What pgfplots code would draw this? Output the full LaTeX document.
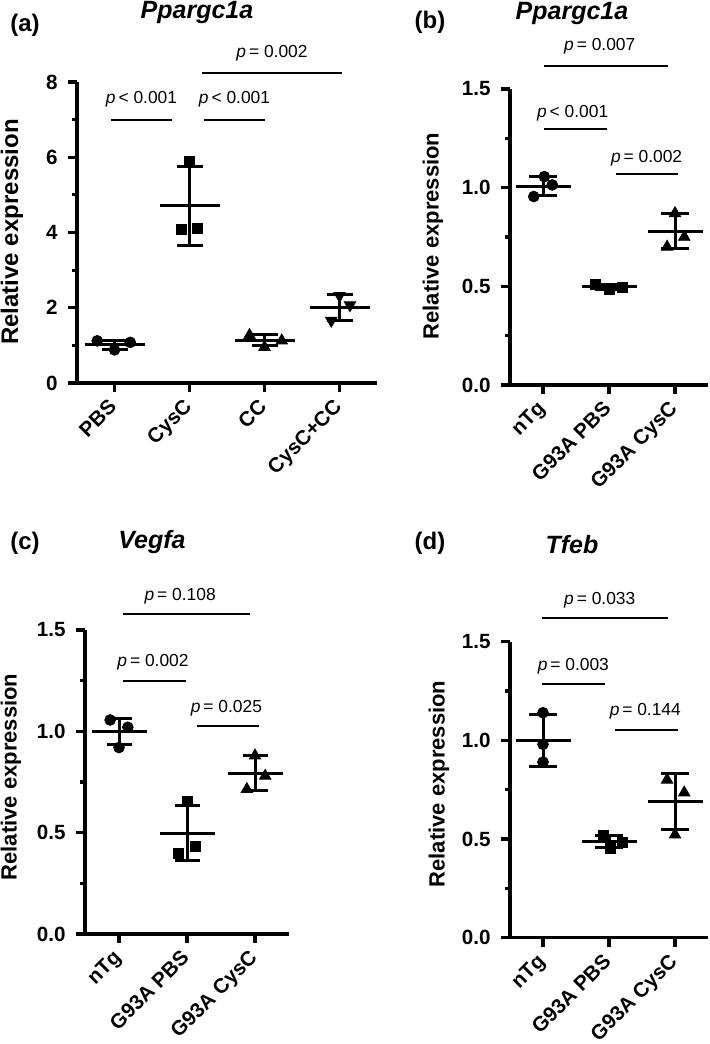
\documentclass[border=0pt]{standalone}
\usepackage{fontspec}
\setmainfont{Liberation Sans}
\usepackage{pgfplots}
\usepackage{pgfplotstable}
\pgfplotsset{compat=1.18}

% summary tables: category position, mean, SD
\pgfplotstableread{
x mean sd
0 1.01 0.13
1 4.71 1.05
2 1.135 0.145
3 1.995 0.345
}\statsA
\pgfplotstableread{
x mean sd
0 1.008 0.049
1 0.498 0.012
2 0.780 0.090
}\statsB
\pgfplotstableread{
x mean sd
0 1.000 0.065
1 0.497 0.135
2 0.793 0.086
}\statsC
\pgfplotstableread{
x mean sd
0 1.000 0.130
1 0.487 0.032
2 0.690 0.142
}\statsD

\newcommand{\psize}{\fontsize{8.7}{10}\selectfont}
\newcommand{\pv}[1]{\textit{p}\,#1}

\pgfplotsset{
  gp/.style={
    scale only axis, anchor=south west, clip=false,
    axis lines=left,
    axis line style={-, line width=1.7pt},
    every outer x axis line/.append style={line width=1.7pt},
    every outer y axis line/.append style={line width=1.7pt},
    every inner x axis line/.append style={line width=1.7pt},
    every inner y axis line/.append style={line width=1.7pt},
    tick align=outside, major tick length=4.5pt, minor tick length=2.5pt,
    every tick/.append style={line width=1.6pt, black},
    xmin=-0.5, ymin=0,
    minor y tick num=1,
    /pgf/number format/assume math mode=true,
    tick label style={font=\fontsize{10.3}{11}\selectfont\bfseries},
    yticklabel style={inner sep=0pt, anchor=east, xshift=-5pt},
    xticklabel style={xshift=-3.5pt, yshift=-2.75pt, inner sep=0pt, rotate=45, anchor=north east},
  },
  fixone/.style={yticklabel style={/pgf/number format/.cd, fixed, fixed zerofill, precision=1}},
  sig/.style={line width=1.1pt, mark=none, black},
  meanbar/.style 2 args={only marks, mark=-, mark size=#1, mark options={line width=1.5pt},
    error bars/y dir=both, error bars/y explicit, error bars/error mark=|,
    error bars/error bar style={line width=1.5pt},
    error bars/error mark options={mark size=#2, line width=1.5pt}},
}

\begin{document}
\begin{tikzpicture}
\path[use as bounding box] (0,0) rectangle (354.5pt,522pt);

% ---------------- (a)
\begin{axis}[gp, at={(38.5pt,330.5pt)}, width=150pt, height=150.5pt,
  xmax=3.5, ymax=8, ytick={0,2,4,6,8}, xtick={0,1,2,3},
  xticklabels={PBS,CysC,CC,CysC+CC}]
\addplot[meanbar={15pt}{6.5pt}] table[x=x, y=mean, y error=sd] {\statsA};
\addplot[only marks, mark=*, mark size=2.7pt] coordinates {(-0.23,1.12) (0.0,0.88) (0.21,1.08)};
\addplot[only marks, mark=square*, mark size=2.5pt] coordinates {(1.0,5.9) (0.89,4.08) (1.11,4.1)};
\addplot[only marks, mark=triangle*, mark size=3.3pt] coordinates {(1.8,1.27) (2.0,0.95) (2.23,1.125)};
\addplot[only marks, mark=triangle*, mark size=3.3pt, mark options={rotate=180}] coordinates {(3.0,2.32) (3.14,2.07) (2.89,1.66)};
\addplot[sig] coordinates {(-0.05,7.0) (0.77,7.0)};
\addplot[sig] coordinates {(1.19,7.0) (2.01,7.0)};
\addplot[sig] coordinates {(1.16,8.24) (3.03,8.24)};
\node[font=\psize, anchor=base] at (axis cs:0.36,7.44) {\pv{< 0.001}};
\node[font=\psize, anchor=base] at (axis cs:1.6,7.44) {\pv{< 0.001}};
\node[font=\psize, anchor=base] at (axis cs:2.1,8.66) {\pv{= 0.002}};
\end{axis}

% ---------------- (b)
\begin{axis}[gp, fixone, at={(255pt,329.5pt)}, width=99pt, height=148pt,
  xmax=2.5, ymax=1.5, ytick={0,0.5,1,1.5}, xtick={0,1,2},
  xticklabels={nTg,G93A PBS,G93A CysC}]
\addplot[meanbar={13.75pt}{7pt}] table[x=x, y=mean, y error=sd] {\statsB};
\addplot[only marks, mark=*, mark size=2.7pt] coordinates {(-0.14,0.955) (0.02,1.056) (0.14,1.014)};
\addplot[only marks, mark=square*, mark size=2.5pt] coordinates {(0.79,0.51) (1.0,0.482) (1.21,0.495)};
\addplot[only marks, mark=triangle*, mark size=3.3pt] coordinates {(2.0,0.87) (2.14,0.75) (1.88,0.70)};
\addplot[sig] coordinates {(0.015,1.296) (0.97,1.296)};
\addplot[sig] coordinates {(1.106,1.068) (2.045,1.068)};
\addplot[sig] coordinates {(0.015,1.618) (1.894,1.618)};
\node[font=\psize, anchor=base] at (axis cs:0.45,1.357) {\pv{< 0.001}};
\node[font=\psize, anchor=base] at (axis cs:1.57,1.129) {\pv{= 0.002}};
\node[font=\psize, anchor=base] at (axis cs:0.86,1.694) {\pv{= 0.007}};
\end{axis}

% ---------------- (c)
\begin{axis}[gp, fixone, at={(42.5pt,55pt)}, width=102pt, height=152pt,
  xmax=2.5, ymax=1.5, ytick={0,0.5,1,1.5}, xtick={0,1,2},
  xticklabels={nTg,G93A PBS,G93A CysC}]
\addplot[meanbar={13.75pt}{6.25pt}] table[x=x, y=mean, y error=sd] {\statsC};
\addplot[only marks, mark=*, mark size=2.7pt] coordinates {(-0.13,1.056) (0.13,1.02) (0.0,0.92)};
\addplot[only marks, mark=square*, mark size=2.5pt] coordinates {(1.0,0.653) (0.88,0.40) (1.12,0.43)};
\addplot[only marks, mark=triangle*, mark size=3.3pt] coordinates {(2.0,0.88) (2.15,0.78) (1.88,0.714)};
\addplot[sig] coordinates {(0.06,1.577) (1.93,1.577)};
\addplot[sig] coordinates {(0.06,1.25) (0.985,1.25)};
\addplot[sig] coordinates {(1.147,1.028) (2.06,1.028)};
\node[font=\psize, anchor=base] at (axis cs:0.9,1.648) {\pv{= 0.108}};
\node[font=\psize, anchor=base] at (axis cs:0.5,1.319) {\pv{= 0.002}};
\node[font=\psize, anchor=base] at (axis cs:1.58,1.092) {\pv{= 0.025}};
\end{axis}

% ---------------- (d)
\begin{axis}[gp, fixone, at={(255pt,53.15pt)}, width=99pt, height=148pt,
  xmax=2.5, ymax=1.5, ytick={0,0.5,1,1.5}, xtick={0,1,2},
  xticklabels={nTg,G93A PBS,G93A CysC}]
\addplot[meanbar={13.75pt}{7pt}] table[x=x, y=mean, y error=sd] {\statsD};
\addplot[only marks, mark=*, mark size=2.7pt] coordinates {(0,1.14) (0,0.98) (0,0.89)};
\addplot[only marks, mark=square*, mark size=2.5pt] coordinates {(0.91,0.52) (1.02,0.453) (1.21,0.482)};
\addplot[only marks, mark=triangle*, mark size=3.3pt] coordinates {(1.88,0.80) (2.14,0.735) (2.0,0.522)};
\addplot[sig] coordinates {(-0.015,1.619) (1.894,1.619)};
\addplot[sig] coordinates {(-0.015,1.284) (0.94,1.284)};
\addplot[sig] coordinates {(1.09,1.052) (2.045,1.052)};
\node[font=\psize, anchor=base] at (axis cs:0.86,1.691) {\pv{= 0.033}};
\node[font=\psize, anchor=base] at (axis cs:0.46,1.353) {\pv{= 0.003}};
\node[font=\psize, anchor=base] at (axis cs:1.55,1.124) {\pv{= 0.144}};
\end{axis}

% titles, panel letters, y labels
\node[font=\fontsize{12.5}{14}\selectfont\bfseries\itshape] at (98.5pt,515.5pt) {Ppargc1a};
\node[font=\fontsize{12.5}{14}\selectfont\bfseries\itshape] at (286pt,515pt) {Ppargc1a};
\node[font=\fontsize{12.5}{14}\selectfont\bfseries\itshape] at (76pt,251pt) {Vegfa};
\node[font=\fontsize{12.5}{14}\selectfont\bfseries\itshape] at (286pt,249.5pt) {Tfeb};
\node[font=\fontsize{12}{14}\selectfont\bfseries] at (12.5pt,509.5pt) {(a)};
\node[font=\fontsize{12}{14}\selectfont\bfseries] at (215pt,511pt) {(b)};
\node[font=\fontsize{12}{14}\selectfont\bfseries] at (12.5pt,250.5pt) {(c)};
\node[font=\fontsize{12}{14}\selectfont\bfseries] at (215pt,250.5pt) {(d)};
\node[font=\fontsize{12}{14}\selectfont\bfseries, rotate=90] at (6pt,406pt) {Relative expression};
\node[font=\fontsize{11}{13}\selectfont\bfseries, rotate=90] at (216.5pt,404pt) {Relative expression};
\node[font=\fontsize{11}{13}\selectfont\bfseries, rotate=90] at (5.5pt,133.5pt) {Relative expression};
\node[font=\fontsize{11}{13}\selectfont\bfseries, rotate=90] at (219.5pt,130pt) {Relative expression};
\end{tikzpicture}
\end{document}
